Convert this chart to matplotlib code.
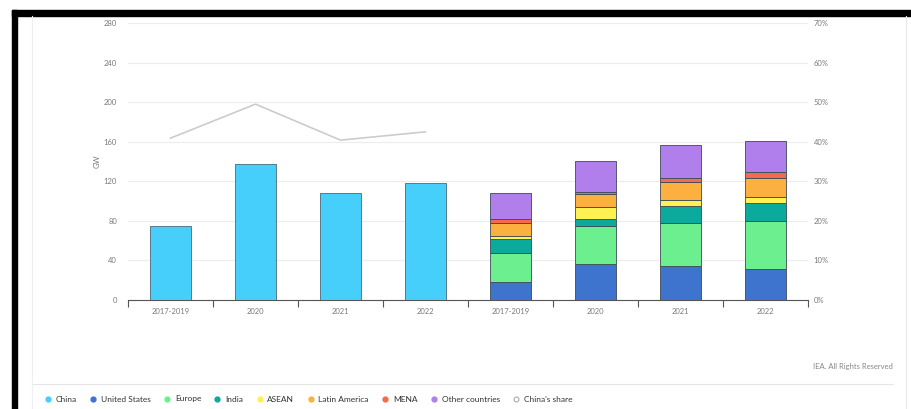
import numpy as np
import matplotlib.pyplot as plt
from matplotlib.lines import Line2D
from matplotlib.patches import Rectangle

# categories (left group: China, right group: rest of world by region)
cats = ['2017-2019', '2020', '2021', '2022', '2017-2019', '2020', '2021', '2022']
china = [75, 137.5, 108, 118]
china_share = [40.9, 49.5, 40.4, 42.5]   # %
us = [17.9, 36.1, 34.7, 31.0]
europe = [30.0, 38.7, 43.5, 48.9]
india = [13.6, 6.8, 17.2, 18.5]
asean = [3.3, 12.1, 5.7, 6.0]
latam = [13.5, 13.2, 17.9, 18.6]
mena = [3.4, 2.6, 4.7, 6.1]
other = [26.3, 31.4, 32.7, 31.7]

series = [('United States', us, '#3E74CD'),
          ('Europe', europe, '#6CF08F'),
          ('India', india, '#0BAA9C'),
          ('ASEAN', asean, '#FFF151'),
          ('Latin America', latam, '#FBB040'),
          ('MENA', mena, '#F46A4E'),
          ('Other countries', other, '#B07FEC')]
china_col = '#45CFFA'
share_col = '#cccccc'
txt_col = '#7a7a7a'

plt.rcParams['font.family'] = ['Lato', 'DejaVu Sans']
fig = plt.figure(figsize=(9.12, 4.09), dpi=100)
ax = fig.add_axes([128/912, 109/409, 680/912, 277/409])
ax2 = ax.twinx()

w = 0.48
xl = np.arange(4)
xr = np.arange(4, 8)
ax.bar(xl, china, w, color=china_col, edgecolor='#4a6a78', linewidth=0.6, zorder=3)
bottom = np.zeros(4)
for name, vals, col in series:
    ax.bar(xr, vals, w, bottom=bottom, color=col, edgecolor='#3d4a55', linewidth=0.6, zorder=3)
    bottom += np.array(vals)

ax2.plot(xl, china_share, color=share_col, lw=1.2, zorder=4)

ax.set_xlim(-0.5, 7.5)
ax.set_ylim(0, 280)
ax2.set_ylim(0, 70)
ax.set_yticks(range(0, 281, 40))
ax2.set_yticks(range(0, 71, 10))
ax2.set_yticklabels([f'{v}%' for v in range(0, 71, 10)])
ax.grid(axis='y', color='#ececec', lw=0.8, zorder=0)
ax.set_axisbelow(True)

ax.set_xticks(range(8))
ax.set_xticklabels(cats)
ax.set_xticks(np.arange(-0.5, 8, 1), minor=True)
ax.tick_params(axis='x', which='major', length=0, pad=6, labelsize=5.5, labelcolor=txt_col)
ax.tick_params(axis='x', which='minor', length=5, width=0.8, color='#555555', direction='out')
ax.tick_params(axis='y', length=0, pad=8, labelsize=5.5, labelcolor=txt_col)
ax2.tick_params(axis='y', length=0, pad=4, labelsize=5.5, labelcolor=txt_col)
ax.set_ylabel('GW', fontsize=5.5, color=txt_col, labelpad=2)

for a in (ax, ax2):
    for s in ['top', 'left', 'right', 'bottom']:
        a.spines[s].set_visible(False)
ax.spines['bottom'].set_visible(True)
ax.spines['bottom'].set_color('#555555')
ax.spines['bottom'].set_linewidth(0.8)

# legend
names = ['China'] + [s[0] for s in series] + ["China's share"]
cols = [china_col] + [s[2] for s in series]
handles = [Line2D([], [], ls='', marker='o', ms=3.5, mfc=c, mec=c) for c in cols]
handles.append(Line2D([], [], ls='', marker='o', ms=3.5, mfc='white', mec='#aaaaaa', mew=0.8))
fig.legend(handles, names, loc='center left', bbox_to_anchor=(38/912, 1 - 399/409), ncol=9,
           frameon=False, fontsize=6, handletextpad=0.2, columnspacing=1.2,
           handlelength=1.5, labelcolor='#333333', borderaxespad=0)

fig.text(893/912, 1 - 367/409, 'IEA. All Rights Reserved', ha='right', va='center',
         fontsize=5.5, color='#888888')
fig.add_artist(Line2D([32/912, 893/912], [1 - 384/409] * 2, color='#e6e6e6', lw=0.8))
fig.add_artist(Line2D([32/912] * 2, [0, 1 - 16/409], color='#f0f0f0', lw=0.8))
fig.add_artist(Line2D([906/912] * 2, [0, 1 - 16/409], color='#e8e8e8', lw=0.8))

# black frame edges
fig.add_artist(Rectangle((12/912, 1 - 16/409), 900/912, 6/409, color='black', transform=fig.transFigure))
fig.add_artist(Rectangle((12/912, 0), 5/912, 1 - 10/409, color='black', transform=fig.transFigure))

fig.savefig('out.png', dpi=100)
